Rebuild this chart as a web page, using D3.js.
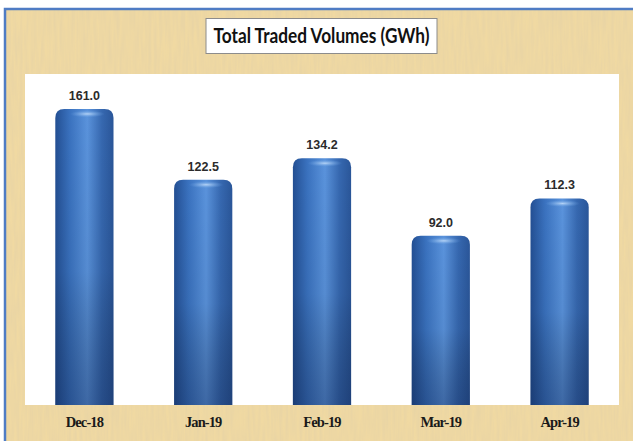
<!DOCTYPE html>
<html>
<head>
<meta charset="utf-8">
<script src="https://cdn.jsdelivr.net/npm/d3@7"></script>
<style>
  body { margin: 0; background: #fff; }
  svg { display: block; }
</style>
</head>
<body>
<svg></svg>
<script>
// canvas size
let width = 633
let height = 441

// data
const months = ['Dec-18', 'Jan-19', 'Feb-19', 'Mar-19', 'Apr-19']
const volumes = [161.0, 122.5, 134.2, 92.0, 112.3]
const titleText = 'Total Traded Volumes (GWh)'

// plot area (white panel)
let plot = { left: 25, right: 619, top: 74, bottom: 405 }

let svg = d3.select('svg')
  .attr('width', width)
  .attr('height', height)

let defs = svg.append('defs')

// parchment texture
let tex = defs.append('filter').attr('id', 'paper')
  .attr('x', 0).attr('y', 0).attr('width', '100%').attr('height', '100%')
tex.append('feTurbulence')
  .attr('type', 'fractalNoise')
  .attr('baseFrequency', '0.35 0.03')
  .attr('numOctaves', 2)
  .attr('seed', 4)
  .attr('result', 'noise')
tex.append('feColorMatrix')
  .attr('in', 'noise')
  .attr('type', 'matrix')
  .attr('values', '0 0 0 0 0.78  0 0 0 0 0.64  0 0 0 0 0.38  0 0 0 1.1 -0.3')
  .attr('result', 'tint')
tex.append('feComposite').attr('in', 'tint').attr('in2', 'SourceGraphic').attr('operator', 'in')

// bar gradients: horizontal cylinder + darkening towards the bottom
let hg = defs.append('linearGradient').attr('id', 'cyl')
  .attr('x1', 0).attr('x2', 1).attr('y1', 0).attr('y2', 0)
hg.append('stop').attr('offset', '0%').attr('stop-color', '#234f93')
hg.append('stop').attr('offset', '25%').attr('stop-color', '#3a72bf')
hg.append('stop').attr('offset', '55%').attr('stop-color', '#5a93dc')
hg.append('stop').attr('offset', '80%').attr('stop-color', '#3668b0')
hg.append('stop').attr('offset', '100%').attr('stop-color', '#2a5699')

let vg = defs.append('linearGradient').attr('id', 'shade')
  .attr('x1', 0).attr('x2', 0).attr('y1', 0).attr('y2', 1)
vg.append('stop').attr('offset', '0%').attr('stop-color', '#000').attr('stop-opacity', 0)
vg.append('stop').attr('offset', '55%').attr('stop-color', '#000').attr('stop-opacity', 0.05)
vg.append('stop').attr('offset', '100%').attr('stop-color', '#0a1a40').attr('stop-opacity', 0.35)

let capg = defs.append('radialGradient').attr('id', 'cap')
capg.append('stop').attr('offset', '0%').attr('stop-color', '#b9d6f7').attr('stop-opacity', 0.95)
capg.append('stop').attr('offset', '100%').attr('stop-color', '#6aa2e4').attr('stop-opacity', 0)

// background
svg.append('rect')
  .attr('x', 4).attr('y', 8)
  .attr('width', width - 4).attr('height', height - 8)
  .attr('fill', '#f0d9a2')
svg.append('rect')
  .attr('x', 4).attr('y', 8)
  .attr('width', width - 4).attr('height', height - 8)
  .attr('fill', '#fff')
  .attr('filter', 'url(#paper)')

// blue frame (top and left)
svg.append('path')
  .attr('d', `M5,${height} V9 H${width}`)
  .attr('fill', 'none')
  .attr('stroke', '#4f7cc4')
  .attr('stroke-width', 2.5)

// white plot panel
svg.append('rect')
  .attr('x', plot.left).attr('y', plot.top)
  .attr('width', plot.right - plot.left)
  .attr('height', plot.bottom - plot.top)
  .attr('fill', '#fff')

// title box
let titleG = svg.append('g')
titleG.append('rect')
  .attr('x', 206).attr('y', 18.5)
  .attr('width', 231).attr('height', 35)
  .attr('fill', '#fff')
  .attr('stroke', '#8c8c8c')
  .attr('stroke-width', 1)
titleG.append('text')
  .attr('x', 321.5).attr('y', 43)
  .attr('text-anchor', 'middle')
  .attr('textLength', 216)
  .attr('lengthAdjust', 'spacingAndGlyphs')
  .style('font-family', 'Lato, "Open Sans", sans-serif')
  .style('font-weight', 'bold')
  .style('font-size', '21px')
  .attr('fill', '#111')
  .text(titleText)

// scales
let xScale = d3.scaleBand()
  .domain(months)
  .range([plot.left, plot.right])
  .paddingInner(0.51)
  .paddingOuter(0.255)

let yScale = d3.scaleLinear()
  .domain([0, 180])
  .range([plot.bottom, plot.top])

// bars
let barPath = (x, y, w, h) => {
  let r = 9
  return `M${x},${y + h} V${y + r} Q${x},${y} ${x + r},${y} H${x + w - r} Q${x + w},${y} ${x + w},${y + r} V${y + h} Z`
}

let bars = svg.selectAll('.bar')
  .data(volumes)
  .enter()
  .append('g')
  .attr('class', 'bar')

bars.append('path')
  .attr('d', (d, i) => barPath(xScale(months[i]), yScale(d), xScale.bandwidth(), plot.bottom - yScale(d)))
  .attr('fill', 'url(#cyl)')
bars.append('path')
  .attr('d', (d, i) => barPath(xScale(months[i]), yScale(d), xScale.bandwidth(), plot.bottom - yScale(d)))
  .attr('fill', 'url(#shade)')
bars.append('ellipse')
  .attr('cx', (d, i) => xScale(months[i]) + xScale.bandwidth() * 0.55)
  .attr('cy', d => yScale(d) + 5)
  .attr('rx', xScale.bandwidth() * 0.3)
  .attr('ry', 3.5)
  .attr('fill', 'url(#cap)')

// value labels
bars.append('text')
  .attr('x', (d, i) => xScale(months[i]) + xScale.bandwidth() / 2)
  .attr('y', d => yScale(d) - 9)
  .attr('text-anchor', 'middle')
  .style('font-family', '"Liberation Sans Narrow", "Liberation Sans", Arial, sans-serif')
  .style('font-weight', 'bold')
  .style('font-size', '12.5px')
  .attr('fill', '#2b2b2b')
  .text(d => d.toFixed(1))

// category axis
let xAxis = d3.axisBottom(xScale).tickSize(0).tickPadding(12)
let axisG = svg.append('g')
  .attr('transform', 'translate(0,' + plot.bottom + ')')
  .call(xAxis)
axisG.select('.domain').remove()
axisG.selectAll('text')
  .style('font-family', '"Liberation Serif", "Times New Roman", serif')
  .style('font-weight', 'bold')
  .style('font-size', '14.5px')
  .style('letter-spacing', '-0.9px')
  .attr('fill', '#1a1a1a')
</script>
</body>
</html>
